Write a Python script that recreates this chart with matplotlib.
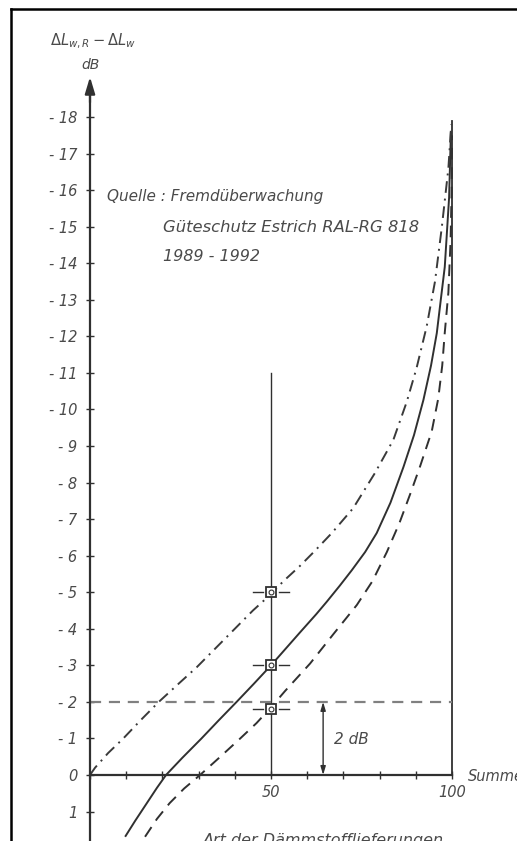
import matplotlib
matplotlib.use("Agg")
import matplotlib.pyplot as plt
from matplotlib.lines import Line2D

# ---- data ----
solid_x = [9.7, 12.5, 15.7, 18.5, 21.0, 25.5, 30.8, 35.6, 40.5, 45.3, 50.0, 54.0, 58.0, 62.5, 65.4, 69.0, 72.3, 76.0, 79.2, 83.0, 86.6, 89.5, 92.1, 94.2, 95.8, 96.9, 98.0, 99.2, 99.7]
solid_v = [-1.69, -1.25, -0.77, -0.35, 0.0, 0.47, 1.0, 1.5, 2.0, 2.5, 3.0, 3.45, 3.9, 4.4, 4.74, 5.18, 5.6, 6.1, 6.62, 7.45, 8.43, 9.3, 10.26, 11.2, 12.09, 13.0, 13.9, 15.8, 17.6]

dashed_x = [15.2, 18.5, 22.0, 26.0, 30.4, 36.0, 41.5, 46.0, 50.0, 53.9, 60.8, 67.2, 73.7, 78.0, 82.0, 85.5, 88.5, 91.2, 94.4, 96.2, 97.3, 98.0, 99.0, 99.6, 99.9, 100.0]
dashed_v = [-1.69, -1.2, -0.77, -0.37, 0.0, 0.5, 1.0, 1.42, 1.85, 2.3, 3.05, 3.85, 4.65, 5.3, 6.1, 6.9, 7.7, 8.45, 9.4, 10.3, 11.2, 12.1, 13.2, 14.6, 16.0, 17.5]

dashdot_x = [0.0, 1.4, 5.0, 9.2, 14.0, 19.0, 24.5, 29.5, 35.0, 40.0, 45.0, 50.0, 53.4, 58.0, 62.0, 66.8, 72.7, 78.7, 83.8, 87.5, 90.2, 93.0, 95.3, 97.2, 99.0, 99.8]
dashdot_v = [0.0, 0.2, 0.6, 1.0, 1.5, 2.0, 2.5, 2.95, 3.5, 4.0, 4.5, 4.95, 5.3, 5.72, 6.12, 6.62, 7.3, 8.26, 9.17, 10.21, 11.13, 12.27, 13.5, 15.0, 16.6, 17.8]

marker_x = [50, 50, 50]
marker_v = [5.0, 3.0, 1.8]

ref_level = 2.0          # horizontal dashed reference line
dim_x = 64.4             # x of the "2 dB" dimension arrow
vline50_top = 11.0
vline100_top = 17.9

ytick_vals = list(range(-1, 19))
ytick_labels = ["1", "0"] + ["- %d" % v for v in range(1, 19)]
xtick_vals = list(range(0, 101, 10))
xtick_labels = ["" if v not in (50, 100) else str(v) for v in xtick_vals]

source_lines = ["Quelle : Fremdüberwachung", "Güteschutz Estrich RAL-RG 818", "1989 - 1992"]

# ---- figure ----
W, H, DPI = 517, 841, 100
fig = plt.figure(figsize=(W / DPI, H / DPI), dpi=DPI)
ax = fig.add_axes([0, 0, 1, 1])

# pixel mapping: x=0 -> px 90, x=100 -> px 452 ; v=0 -> py 775, 36.55 px per dB
sx = (452 - 90) / 100.0
sy = 36.55
ax.set_xlim(-90 / sx, (W - 90) / sx)
ax.set_ylim(-(H - 775) / sy, 775 / sy)
ax.set_facecolor("white")

ink = "#303030"
txt = "#4a4a4a"

for s in ["top", "right"]:
    ax.spines[s].set_visible(False)
ax.spines["left"].set_position(("data", 0))
ax.spines["bottom"].set_position(("data", 0))
ax.spines["left"].set_bounds(-1.9, 18.6)
ax.spines["bottom"].set_bounds(0, 100)
for s in ["left", "bottom"]:
    ax.spines[s].set_linewidth(1.6)
    ax.spines[s].set_color(ink)

ax.set_yticks(ytick_vals)
ax.set_yticklabels(ytick_labels)
ax.set_xticks(xtick_vals)
ax.set_xticklabels(xtick_labels)
ax.tick_params(axis="both", direction="inout", length=6, width=1.0, color=ink,
               labelcolor=txt, labelsize=10.5)
ax.tick_params(axis="y", pad=6)
ax.tick_params(axis="x", pad=4)
for lab in ax.get_yticklabels() + ax.get_xticklabels():
    lab.set_fontstyle("italic")

# arrow head on the y axis
ax.annotate("", xy=(0, 19.1), xytext=(0, 18.4),
            arrowprops=dict(arrowstyle="-|>,head_length=1.0,head_width=0.3",
                            color=ink, lw=1.6, shrinkA=0, shrinkB=0))
ax.text(0.8, (775 - 41) / sy, r"$\Delta L_{w,R}-\Delta L_w$", ha="center", va="center",
        fontsize=10.5, color=txt)
ax.text(0, (775 - 65) / sy, "dB", ha="center", va="center", fontsize=10, color=txt,
        fontstyle="italic")

# vertical reference lines
ax.plot([50, 50], [0, vline50_top], color=ink, lw=1.0)
ax.plot([100, 100], [0, vline100_top], color=ink, lw=1.3)

# horizontal dashed line at 2 dB
ax.plot([0, 100], [ref_level, ref_level], color="#808080", lw=1.6,
        linestyle=(0, (5, 3.5)))

# curves
ax.plot(solid_x, solid_v, color=ink, lw=1.4, solid_capstyle="butt")
ax.plot(dashed_x, dashed_v, color=ink, lw=1.4, linestyle=(0, (6, 4)))
ax.plot(dashdot_x, dashdot_v, color="#3a3a3a", lw=1.4, linestyle=(0, (6, 3, 1, 3)))

# markers with short horizontal dashes
for mx, mv in zip(marker_x, marker_v):
    ax.plot([mx - 5.0, mx - 2.3], [mv, mv], color=ink, lw=1.0)
    ax.plot([mx + 2.3, mx + 5.0], [mv, mv], color=ink, lw=1.0)
ax.plot(marker_x, marker_v, linestyle="none", marker="s", markersize=7,
        markerfacecolor="white", markeredgecolor=ink, markeredgewidth=1.3)
ax.plot(marker_x, marker_v, linestyle="none", marker="o", markersize=3.5,
        markerfacecolor="none", markeredgecolor=ink, markeredgewidth=0.8)

# dimension arrow "2 dB"
ax.annotate("", xy=(dim_x, ref_level), xytext=(dim_x, 0),
            arrowprops=dict(arrowstyle="<|-|>,head_length=0.5,head_width=0.15",
                            color=ink, lw=1.0, shrinkA=0, shrinkB=0))
ax.text(dim_x + 3.0, 0.97, "2 dB", ha="left", va="center", fontsize=11,
        color=txt, fontstyle="italic")

# source text
ax.text(4.7, (775 - 197) / sy, source_lines[0], ha="left", va="center",
        fontsize=11, color=txt, fontstyle="italic")
ax.text(20.2, (775 - 228) / sy, source_lines[1], ha="left", va="center",
        fontsize=11.8, color=txt, fontstyle="italic")
ax.text(20.2, (775 - 257) / sy, source_lines[2], ha="left", va="center",
        fontsize=11.5, color=txt, fontstyle="italic")

# axis titles (cut by the figure edge as in the reference)
ax.text((468 - 90) / sx, -0.05, "Summenhäufigkeit", ha="left", va="center",
        fontsize=10.5, color=txt, fontstyle="italic")
ax.text((203 - 90) / sx, -(841 - 775) / sy, "Art der Dämmstofflieferungen",
        ha="left", va="center", fontsize=11.5, color=txt, fontstyle="italic")

# outer frame (left and top only, as visible in the crop)
fig.add_artist(Line2D([11 / W, 11 / W], [0, 1 - 9 / H], transform=fig.transFigure,
                      color="black", lw=1.8))
fig.add_artist(Line2D([11 / W, 1], [1 - 9 / H, 1 - 9 / H], transform=fig.transFigure,
                      color="black", lw=1.8))

fig.savefig("out.png", dpi=DPI)
